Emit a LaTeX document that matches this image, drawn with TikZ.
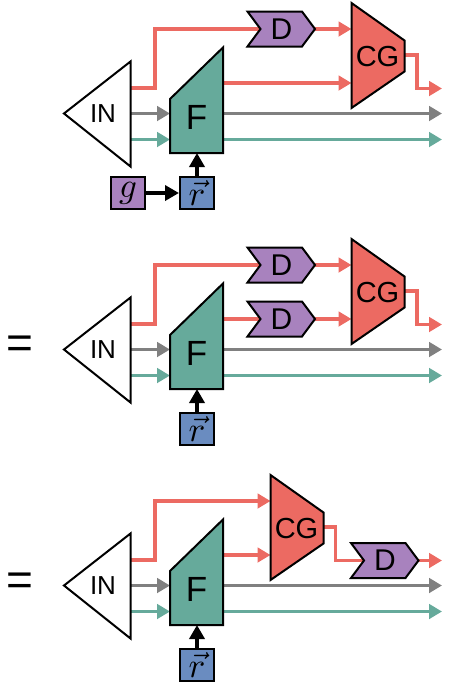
\documentclass[tikz,border=0pt]{standalone}
\usepackage{fontspec}
\setmainfont{Liberation Sans}
\usetikzlibrary{arrows.meta}
\definecolor{cred}{HTML}{EC6A62}
\definecolor{cpurple}{HTML}{A882BE}
\definecolor{cteal}{HTML}{66AA9B}
\definecolor{cblue}{HTML}{6A8CC0}
\definecolor{cgray}{HTML}{808080}
\tikzset{
  sig/.style={line width=3.8pt, -{Triangle[length=13pt,width=14.5pt]}},
  sigplain/.style={line width=3.8pt},
  blk/.style={draw=black, line width=2pt, line join=miter},
  blkarrow/.style={draw=black, line width=4pt, -{Triangle[length=14pt,width=15pt]}},
  lblIN/.style={inner sep=0pt, font=\fontsize{26}{26}\selectfont},
  lblF/.style={inner sep=0pt, font=\fontsize{35}{35}\selectfont},
  lblD/.style={inner sep=0pt, font=\fontsize{30}{30}\selectfont},
  lblCG/.style={inner sep=0pt, font=\fontsize{29}{29}\selectfont},
  eqsign/.style={inner sep=0pt, font=\fontsize{46}{46}\selectfont},
  mbox/.style={draw=black, line width=2pt, minimum width=34pt, minimum height=32pt, inner sep=0pt},
}
% common parts of a panel: IN, F, r-box, gray and teal signals
\newcommand\basepanel[1]{%
  \coordinate (#1inG) at (130.5,0);
  \coordinate (#1inT) at (130.5,26);
  \coordinate (#1fG) at (170,0);
  \coordinate (#1fT) at (170,26);
  \coordinate (#1fGo) at (223,0);
  \coordinate (#1fTo) at (223,26);
  \coordinate (#1fB) at (197,39.5);
  \coordinate (#1endG) at (442,0);
  \coordinate (#1endT) at (442,26);
  \draw[sig,cgray] (#1inG) -- (#1fG);
  \draw[sig,cteal] (#1inT) -- (#1fT);
  \draw[sig,cgray] (#1fGo) -- (#1endG);
  \draw[sig,cteal] (#1fTo) -- (#1endT);
  \node[mbox, fill=cblue] (#1r) at (197,79.5) {\scalebox{3.5}{$\vec{r}$}};
  \draw[blkarrow] (#1r.north) -- (#1fB);
  \draw[blk, fill=white] (64,0) -- (130.5,-52) -- (130.5,53) -- cycle;
  \node[lblIN] (#1in) at (103,0) {IN};
  \draw[blk, fill=cteal] (170,39.5) -- (170,-14.5) -- (223,-66) -- (223,39.5) -- cycle;
  \node[lblF] (#1f) at (196.5,4) {F};
}
% D shape centred at (#2,#3)
\newcommand\dshape[3]{%
  \draw[blk, fill=cpurple] ({#2-33.5},{#3-17.5}) -- ({#2-20.5},#3) -- ({#2-33.5},{#3+17.5})
     -- ({#2+21},{#3+17.5}) -- ({#2+34},#3) -- ({#2+21},{#3-17.5}) -- cycle;
  \node[lblD] (#1) at ({#2+0.5},#3) {D};
}
% CG shape with left edge at #2
\newcommand\cgshape[2]{%
  \draw[blk, fill=cred] (#2,-110.5) -- ({#2+53},-73) -- ({#2+53},-42) -- (#2,-5.5) -- cycle;
  \node[lblCG] (#1) at ({#2+26},-57) {CG};
}
\begin{document}
\begin{tikzpicture}[x=1pt,y=-1pt]
\useasboundingbox (0,0) rectangle (450,694);
% ---------- panel 1 ----------
\begin{scope}[shift={(0,113.5)}]
  \coordinate (ainR) at (130.5,-25.5);
  \coordinate (aup) at (155,-84.5);
  \coordinate (afRo) at (223,-30.5);
  \coordinate (aDin) at (260.5,-84.5);
  \coordinate (aDout) at (315,-84.5);
  \coordinate (aCGa) at (351.5,-84.5);
  \coordinate (aCGb) at (351.5,-30.5);
  \coordinate (aCGo) at (404.5,-58.5);
  \coordinate (abend) at (417,-25);
  \coordinate (aend) at (442,-25);
  \draw[sigplain,cred] (ainR) -| (aup) -- (aDin);
  \draw[sig,cred] (afRo) -- (aCGb);
  \draw[sig,cred] (aDout) -- (aCGa);
  \draw[sig,cred] (aCGo) -| (abend) -- (aend);
  \basepanel{a}
  \dshape{aD}{281}{-84.5}
  \cgshape{aCG}{351.5}
  \node[mbox, fill=cpurple] (ag) at (128,79.5) {\scalebox{3.5}{$g$}};
  \draw[blkarrow] (ag.east) -- (ar.west);
\end{scope}
% ---------- panel 2 ----------
\begin{scope}[shift={(0,349.5)}]
  \node[eqsign] (beq) at (19.5,-2.5) {=};
  \coordinate (binR) at (130.5,-25.5);
  \coordinate (bup) at (155,-84.5);
  \coordinate (bfRo) at (223,-30.5);
  \coordinate (bD1in) at (260.5,-84.5);
  \coordinate (bD2in) at (260.5,-30.5);
  \coordinate (bD1out) at (315,-84.5);
  \coordinate (bD2out) at (315,-30.5);
  \coordinate (bCGa) at (351.5,-84.5);
  \coordinate (bCGb) at (351.5,-30.5);
  \coordinate (bCGo) at (404.5,-58.5);
  \coordinate (bbend) at (417,-25);
  \coordinate (bend) at (442,-25);
  \draw[sigplain,cred] (binR) -| (bup) -- (bD1in);
  \draw[sigplain,cred] (bfRo) -- (bD2in);
  \draw[sig,cred] (bD1out) -- (bCGa);
  \draw[sig,cred] (bD2out) -- (bCGb);
  \draw[sig,cred] (bCGo) -| (bbend) -- (bend);
  \basepanel{b}
  \dshape{bD1}{281}{-84.5}
  \dshape{bD2}{281}{-30.5}
  \cgshape{bCG}{351.5}
\end{scope}
% ---------- panel 3 ----------
\begin{scope}[shift={(0,585.5)}]
  \node[eqsign] (ceq) at (19.5,-1) {=};
  \coordinate (cinR) at (130.5,-25.5);
  \coordinate (cup) at (155,-84.5);
  \coordinate (cfRo) at (223,-30.5);
  \coordinate (cCGa) at (270.5,-84.5);
  \coordinate (cCGb) at (270.5,-30.5);
  \coordinate (cCGo) at (323.5,-58.5);
  \coordinate (cbend) at (335.5,-25);
  \coordinate (cDin) at (364.5,-25);
  \coordinate (cDout) at (418.5,-25);
  \coordinate (cend) at (442,-25);
  \draw[sig,cred] (cinR) -| (cup) -- (cCGa);
  \draw[sig,cred] (cfRo) -- (cCGb);
  \draw[sigplain,cred] (cCGo) -| (cbend) -- (cDin);
  \draw[sig,cred] (cDout) -- (cend);
  \basepanel{c}
  \cgshape{cCG}{270.5}
  \dshape{cD}{384.5}{-25}
\end{scope}
\end{tikzpicture}
\end{document}
